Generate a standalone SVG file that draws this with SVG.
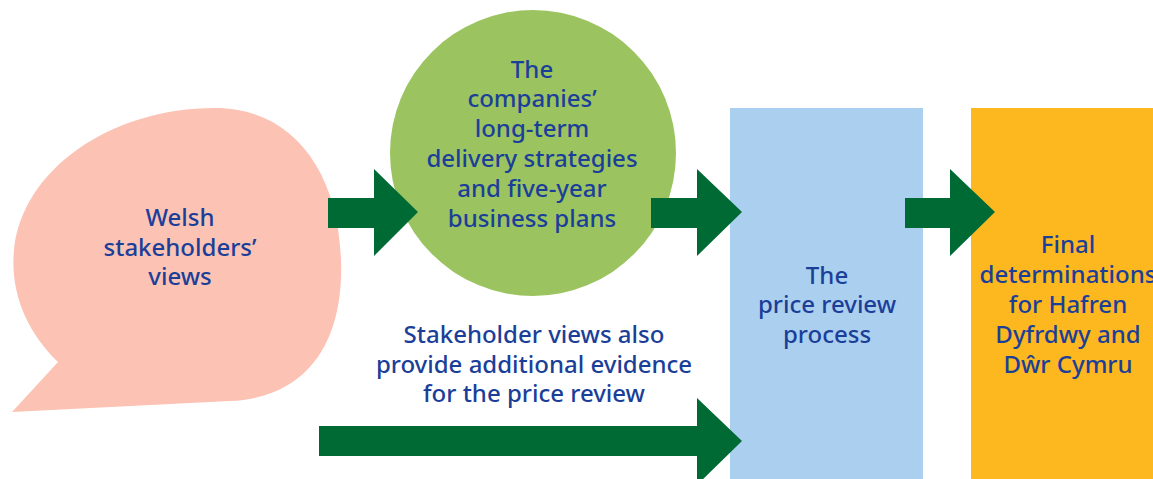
<svg xmlns="http://www.w3.org/2000/svg" width="1153" height="479" viewBox="0 0 1153 479">
  <style>
    .lbl { font-family: "Noto Sans", "Open Sans", sans-serif; font-size: 24px; font-weight: 550; fill: #1b3f99; text-anchor: middle; }
    .arrow { fill: #006a35; }
  </style>
  <rect x="0" y="0" width="1153" height="479" fill="#ffffff"/>

  <g id="stakeholders">
    <path d="M 58 362 C 25 330, 10 290, 14 250 C 22 170, 110 108, 215 108 C 292 108, 338 170, 341 260 C 344 345, 305 398, 230 401 L 12 412 Z" fill="#fcc3b5"/>
    <text class="lbl" x="180" y="226">Welsh</text>
    <text class="lbl" x="180" y="256">stakeholders’</text>
    <text class="lbl" x="180" y="285">views</text>
  </g>

  <g id="business-plans">
    <circle cx="533" cy="153" r="143" fill="#9bc460"/>
    <text class="lbl" x="532" y="78">The</text>
    <text class="lbl" x="532" y="107">companies’</text>
    <text class="lbl" x="532" y="137">long-term</text>
    <text class="lbl" x="532" y="167">delivery strategies</text>
    <text class="lbl" x="532" y="197">and five-year</text>
    <text class="lbl" x="532" y="227">business plans</text>
  </g>

  <g id="evidence-note">
    <text class="lbl" x="534" y="343">Stakeholder views also</text>
    <text class="lbl" x="534" y="373">provide additional evidence</text>
    <text class="lbl" x="534" y="402">for the price review</text>
  </g>

  <g id="price-review">
    <rect x="730" y="108" width="193" height="371" fill="#abcfee"/>
    <text class="lbl" x="827" y="284">The</text>
    <text class="lbl" x="827" y="313">price review</text>
    <text class="lbl" x="827" y="343">process</text>
  </g>

  <g id="final-determinations">
    <rect x="971" y="108" width="182" height="371" fill="#fdb71f"/>
    <text class="lbl" x="1068" y="253">Final</text>
    <text class="lbl" x="1068" y="283">determinations</text>
    <text class="lbl" x="1068" y="313">for Hafren</text>
    <text class="lbl" x="1068" y="343">Dyfrdwy and</text>
    <text class="lbl" x="1068" y="373">Dŵr Cymru</text>
  </g>

  <g id="connectors">
    <polygon class="arrow" points="328,198 374,198 374,169 418,212 374,256 374,228 328,228"/>
    <polygon class="arrow" points="651,198 697,198 697,169 742,212 697,256 697,228 651,228"/>
    <polygon class="arrow" points="905,198 950,198 950,169 995,212 950,256 950,228 905,228"/>
    <polygon class="arrow" points="319,426 697,426 697,398 742,441 697,485 697,456 319,456"/>
  </g>
</svg>
